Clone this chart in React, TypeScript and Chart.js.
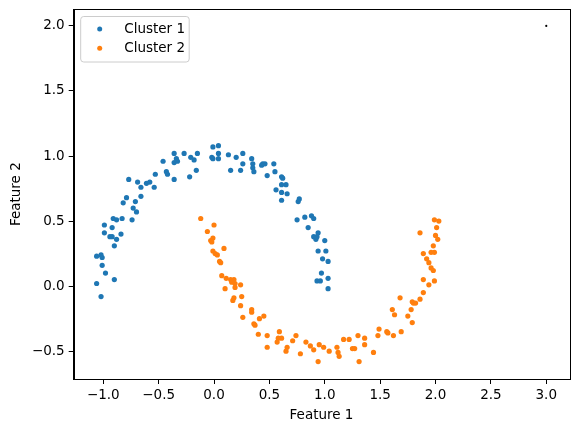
import React, { useEffect, useRef } from "react";
import { Chart, registerables } from "chart.js";

Chart.register(...registerables);

const seriesLabels = ["Cluster 1", "Cluster 2"];
const seriesColors = ["#1f77b4", "#ff7f0e"];

const cluster1X = [0.04, -0.01, -0.27, -0.36, -0.15, 0.04, 0.13, 0.2, 0.26, -0.21, -0.18, -0.02, -0.01, 0.04, -0.34, -0.36, -0.33, -0.46, 0.26, -0.16, 0.15, 0.24, -0.43, -0.42, -0.53, -0.22, -0.36, -0.77, -0.69, -0.61, -0.58, -0.66, -0.54, -0.66, -0.79, -0.71, -0.82, -0.73, -0.7, -0.91, -0.88, -0.83, -0.74, -0.99, -0.92, -0.99, -0.84, -0.94, -0.92, -0.88, -0.9, -1.06, -1.02, -1.01, -1.01, -0.98, -0.9, -1.06, -1.02, 0.34, 0.35, 0.35, 0.36, 0.44, 0.46, 0.43, 0.54, 0.55, 0.48, 0.61, 0.62, 0.61, 0.65, 0.56, 0.61, 0.66, 0.61, 0.77, 0.76, 0.82, 0.88, 0.9, 0.75, 0.85, 0.94, 0.9, 0.92, 0.93, 1.0, 0.94, 1.01, 0.98, 1.03, 0.97, 1.03, 0.93, 0.96, 1.03];
const cluster1Y = [1.08, 1.07, 1.02, 1.02, 1.02, 1.02, 1.01, 0.99, 1.02, 0.99, 0.97, 0.99, 0.98, 0.98, 0.98, 0.95, 0.96, 0.96, 0.94, 0.89, 0.89, 0.89, 0.88, 0.86, 0.86, 0.84, 0.82, 0.82, 0.8, 0.79, 0.8, 0.76, 0.76, 0.69, 0.68, 0.65, 0.64, 0.6, 0.57, 0.52, 0.51, 0.52, 0.51, 0.47, 0.45, 0.41, 0.4, 0.38, 0.38, 0.36, 0.31, 0.23, 0.24, 0.22, 0.16, 0.1, 0.05, 0.02, -0.08, 0.98, 0.94, 0.91, 0.88, 0.94, 0.94, 0.93, 0.94, 0.88, 0.85, 0.84, 0.83, 0.78, 0.78, 0.74, 0.72, 0.71, 0.66, 0.67, 0.65, 0.53, 0.54, 0.52, 0.51, 0.45, 0.41, 0.38, 0.36, 0.38, 0.35, 0.27, 0.27, 0.21, 0.19, 0.1, 0.06, 0.04, 0.04, -0.02];

const cluster2X = [-0.12, 0.0, -0.06, -0.01, -0.03, -0.02, 0.09, -0.01, 0.01, 0.03, 0.06, 0.05, 0.07, 0.11, 0.15, 0.18, 0.19, 0.16, 0.24, 0.1, 0.19, 0.25, 0.18, 0.17, 0.24, 0.34, 0.34, 0.45, 0.41, 0.26, 0.36, 0.37, 0.4, 0.48, 0.59, 0.61, 0.58, 0.57, 0.48, 0.66, 0.65, 0.74, 0.71, 0.78, 0.83, 0.87, 0.9, 0.95, 0.99, 0.94, 1.04, 1.99, 2.03, 2.01, 1.86, 2.0, 2.02, 1.98, 1.89, 1.96, 1.99, 1.92, 1.94, 1.96, 1.98, 1.89, 1.99, 1.94, 1.89, 1.68, 1.86, 1.79, 1.8, 1.82, 1.78, 1.61, 1.63, 1.75, 1.79, 1.49, 1.56, 1.57, 1.69, 1.48, 1.62, 1.3, 1.17, 1.22, 1.36, 1.36, 1.25, 1.27, 1.11, 1.12, 1.13, 1.44, 1.31];
const cluster2Y = [0.52, 0.47, 0.42, 0.37, 0.35, 0.34, 0.29, 0.27, 0.25, 0.24, 0.18, 0.19, 0.08, 0.06, 0.05, 0.05, 0.02, 0.03, 0.01, -0.02, -0.01, -0.08, -0.09, -0.11, -0.15, -0.18, -0.2, -0.23, -0.25, -0.24, -0.29, -0.3, -0.37, -0.38, -0.35, -0.4, -0.4, -0.43, -0.47, -0.47, -0.5, -0.38, -0.42, -0.52, -0.43, -0.46, -0.49, -0.45, -0.47, -0.58, -0.5, 0.51, 0.5, 0.45, 0.41, 0.39, 0.36, 0.31, 0.25, 0.26, 0.26, 0.21, 0.18, 0.14, 0.12, 0.05, 0.04, 0.01, -0.05, -0.09, -0.1, -0.12, -0.13, -0.13, -0.18, -0.18, -0.22, -0.23, -0.28, -0.33, -0.35, -0.36, -0.35, -0.38, -0.38, -0.38, -0.41, -0.41, -0.4, -0.45, -0.48, -0.48, -0.47, -0.51, -0.54, -0.51, -0.58];

const extraX = [3.0];
const extraY = [2.0];

const xTitle = "Feature 1";
const yTitle = "Feature 2";
const xMin = -1.267;
const xMax = 3.208;
const yMin = -0.714;
const yMax = 2.128;
const tickStep = 0.5;

const FONT = "'DejaVu Sans', sans-serif";
const FONT_SIZE = 13.5;

const toPoints = (xs: number[], ys: number[]) => xs.map((x, i) => ({ x, y: ys[i] }));
const fmt = (v: number) => (v < 0 ? "\u2212" + Math.abs(v).toFixed(1) : v.toFixed(1));

const framePlugin = {
  id: "frameAndLegend",
  afterDraw(chart: any) {
    const { ctx, chartArea } = chart;
    ctx.save();
    ctx.strokeStyle = "#000";
    ctx.lineWidth = 1;
    ctx.strokeRect(
      Math.round(chartArea.left) + 0.5,
      Math.round(chartArea.top) + 0.5,
      Math.round(chartArea.right - chartArea.left),
      Math.round(chartArea.bottom - chartArea.top)
    );
    // legend
    const lx = chartArea.left + 7;
    const ly = chartArea.top + 7.2;
    const lw = 108.5;
    const lh = 45.5;
    const r = 3;
    ctx.beginPath();
    ctx.moveTo(lx + r, ly);
    ctx.lineTo(lx + lw - r, ly);
    ctx.quadraticCurveTo(lx + lw, ly, lx + lw, ly + r);
    ctx.lineTo(lx + lw, ly + lh - r);
    ctx.quadraticCurveTo(lx + lw, ly + lh, lx + lw - r, ly + lh);
    ctx.lineTo(lx + r, ly + lh);
    ctx.quadraticCurveTo(lx, ly + lh, lx, ly + lh - r);
    ctx.lineTo(lx, ly + r);
    ctx.quadraticCurveTo(lx, ly, lx + r, ly);
    ctx.closePath();
    ctx.fillStyle = "rgba(255,255,255,0.8)";
    ctx.fill();
    ctx.strokeStyle = "#cccccc";
    ctx.lineWidth = 1;
    ctx.stroke();
    const ds = chart.data.datasets.filter((d: any) => seriesLabels.includes(d.label));
    ds.forEach((d: any, i: number) => {
      const cy = ly + 12.5 + i * 19.3;
      ctx.beginPath();
      ctx.arc(lx + 19, cy, 2.5, 0, Math.PI * 2);
      ctx.fillStyle = d.backgroundColor;
      ctx.fill();
      ctx.fillStyle = "#000";
      ctx.font = `${FONT_SIZE}px ${FONT}`;
      ctx.textBaseline = "middle";
      ctx.textAlign = "left";
      ctx.fillText(d.label, lx + 43.5, cy + 0.5);
    });
    ctx.restore();
  },
};

export default function App() {
  const ref = useRef<HTMLCanvasElement | null>(null);
  useEffect(() => {
    if (!ref.current) return;
    const tickFont = { family: FONT, size: FONT_SIZE };
    const chart = new Chart(ref.current, {
      type: "scatter",
      data: {
        datasets: [
          {
            label: seriesLabels[0],
            data: toPoints(cluster1X, cluster1Y),
            backgroundColor: seriesColors[0],
            borderWidth: 0,
            pointRadius: 2.6,
            pointBorderWidth: 0,
          },
          {
            label: seriesLabels[1],
            data: toPoints(cluster2X, cluster2Y),
            backgroundColor: seriesColors[1],
            borderWidth: 0,
            pointRadius: 2.6,
            pointBorderWidth: 0,
          },
          {
            label: "extra",
            data: toPoints(extraX, extraY),
            backgroundColor: "#000",
            borderWidth: 0,
            pointRadius: 1.1,
            pointBorderWidth: 0,
          },
        ],
      },
      options: {
        animation: false,
        responsive: false,
        maintainAspectRatio: false,
        layout: { padding: { left: 0, right: 9.7, top: 9.3, bottom: 0 } },
        plugins: { legend: { display: false }, tooltip: { enabled: false } },
        scales: {
          x: {
            type: "linear",
            min: xMin,
            max: xMax,
            afterFit: (s: any) => {
              s.height = 53;
              s.paddingLeft = 0;
              s.paddingRight = 0;
            },
            border: { display: true, color: "#000", width: 1 },
            grid: { drawOnChartArea: false, drawTicks: true, tickLength: 5, color: "#000", tickWidth: 1 },
            ticks: {
              stepSize: tickStep,
              includeBounds: false,
              color: "#000",
              font: tickFont,
              padding: 3,
              maxRotation: 0,
              callback: (v: any) => fmt(Number(v)),
            },
            title: { display: true, text: xTitle, color: "#000", font: tickFont, padding: { top: 0, bottom: 8.5 } },
          },
          y: {
            type: "linear",
            min: yMin,
            max: yMax,
            afterFit: (s: any) => {
              s.width = 73.7;
              s.paddingTop = 0;
              s.paddingBottom = 0;
            },
            border: { display: true, color: "#000", width: 1 },
            grid: { drawOnChartArea: false, drawTicks: true, tickLength: 5, color: "#000", tickWidth: 1 },
            ticks: {
              stepSize: tickStep,
              includeBounds: false,
              color: "#000",
              font: tickFont,
              padding: 4,
              callback: (v: any) => fmt(Number(v)),
            },
            title: { display: true, text: yTitle, color: "#000", font: tickFont, padding: { top: 8, bottom: 0 } },
          },
        },
      },
      plugins: [framePlugin],
    });
    return () => chart.destroy();
  }, []);
  return (
    <div style={{ position: "fixed", left: 0, top: 0, width: 579, height: 432, background: "#fff" }}>
      <canvas ref={ref} width={579} height={432} style={{ width: 579, height: 432 }} />
    </div>
  );
}
